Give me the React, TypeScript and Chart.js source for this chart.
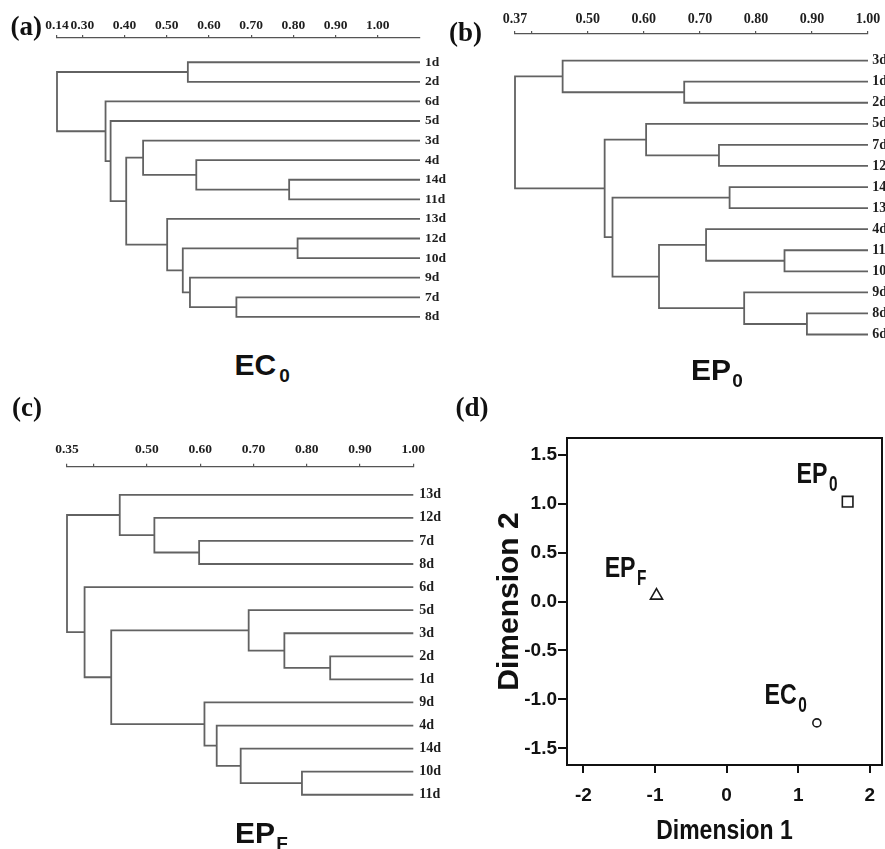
import React, { useEffect, useRef } from "react";
import { Chart, registerables } from "chart.js";

Chart.register(...registerables);

const SERIF = "'Liberation Serif', 'Times New Roman', Times, serif";
const SANS = "'Liberation Sans', Arial, Helvetica, sans-serif";

// ---------- (a) EC0 dendrogram ----------
const ecLeaves = ["1d", "2d", "6d", "5d", "3d", "4d", "14d", "11d", "13d", "12d", "10d", "9d", "7d", "8d"];
// [child A, child B, similarity]; "mN" refers to the N-th merge
const ecMerges: [string, string, number][] = [
  ["1d", "2d", 0.45],
  ["14d", "11d", 0.69],
  ["4d", "m1", 0.47],
  ["3d", "m2", 0.344],
  ["12d", "10d", 0.71],
  ["7d", "8d", 0.565],
  ["9d", "m5", 0.455],
  ["m4", "m6", 0.438],
  ["13d", "m7", 0.401],
  ["m3", "m8", 0.304],
  ["5d", "m9", 0.267],
  ["6d", "m10", 0.255],
  ["m0", "m11", 0.14],
];
const ecTickValues = [0.14, 0.2, 0.3, 0.4, 0.5, 0.6, 0.7, 0.8, 0.9];
const ecTickLabels = ["0.14", "0.30", "0.40", "0.50", "0.60", "0.70", "0.80", "0.90", "1.00"];

// ---------- (b) EP0 dendrogram ----------
const ep0Leaves = ["3d", "1d", "2d", "5d", "7d", "12d", "14d", "13d", "4d", "11d", "10d", "9d", "8d", "6d"];
const ep0Merges: [string, string, number][] = [
  ["1d", "2d", 0.672],
  ["3d", "m0", 0.455],
  ["7d", "12d", 0.734],
  ["5d", "m2", 0.604],
  ["14d", "13d", 0.753],
  ["11d", "10d", 0.851],
  ["4d", "m5", 0.711],
  ["8d", "6d", 0.891],
  ["9d", "m7", 0.779],
  ["m6", "m8", 0.627],
  ["m4", "m9", 0.544],
  ["m3", "m10", 0.53],
  ["m1", "m11", 0.37],
];
const ep0TickValues = [0.37, 0.4, 0.5, 0.6, 0.7, 0.8, 0.9, 1.0];
const ep0TickLabels = ["0.37", "", "0.50", "0.60", "0.70", "0.80", "0.90", "1.00"];

// ---------- (c) EPF dendrogram ----------
const epfLeaves = ["13d", "12d", "7d", "8d", "6d", "5d", "3d", "2d", "1d", "9d", "4d", "14d", "10d", "11d"];
const epfMerges: [string, string, number][] = [
  ["7d", "8d", 0.598],
  ["12d", "m0", 0.514],
  ["13d", "m1", 0.449],
  ["2d", "1d", 0.844],
  ["3d", "m3", 0.758],
  ["5d", "m4", 0.691],
  ["10d", "11d", 0.791],
  ["14d", "m6", 0.676],
  ["4d", "m7", 0.631],
  ["9d", "m8", 0.608],
  ["m5", "m9", 0.433],
  ["6d", "m10", 0.383],
  ["m2", "m11", 0.35],
];
const epfTickValues = [0.35, 0.4, 0.5, 0.6, 0.7, 0.8, 0.9, 1.0];
const epfTickLabels = ["0.35", "", "0.50", "0.60", "0.70", "0.80", "0.90", "1.00"];

// ---------- (d) MDS plot ----------
const mdsNames = ["EP", "EP", "EC"];
const mdsSubs = ["0", "F", "0"];
const mdsX = [1.69, -0.98, 1.26];
const mdsY = [1.02, 0.06, -1.24];
const mdsXTicks = [-2, -1, 0, 1, 2];
const mdsYTicks = [-1.5, -1.0, -0.5, 0.0, 0.5, 1.0, 1.5];
const mdsXTitle = "Dimension 1";
const mdsYTitle = "Dimension 2";

const mdsShapes = ["rect", "triangle", "circle"];
const mdsRadii = [7.5, 7, 4];

type Seg = { x: number; y: number }[];

function dendroSegments(leaves: string[], merges: [string, string, number][], leafValue: number): Seg[] {
  const pos = new Map<string, { x: number; y: number }>();
  leaves.forEach((name, i) => pos.set(name, { x: leafValue, y: i }));
  const segs: Seg[] = [];
  merges.forEach(([a, b, h], i) => {
    const A = pos.get(a)!;
    const B = pos.get(b)!;
    segs.push([
      { x: A.x, y: A.y },
      { x: h, y: A.y },
      { x: h, y: B.y },
      { x: B.x, y: B.y },
    ]);
    pos.set("m" + i, { x: h, y: (A.y + B.y) / 2 });
  });
  return segs;
}

type DendroProps = {
  leaves: string[];
  merges: [string, string, number][];
  tickValues: number[];
  tickLabels: string[];
  min: number;
  max: number;
  left: number;
  top: number;
  width: number;
  height: number;
  padLeft: number;
  axisHeight: number;
  labelWidth: number;
  yMin: number;
  yMax: number;
  tickFont: number;
  tickPad: number;
  leafFont: number;
  leafPad: number;
};

function Dendrogram(p: DendroProps) {
  const ref = useRef<HTMLCanvasElement | null>(null);
  useEffect(() => {
    if (!ref.current) return;
    const segs = dendroSegments(p.leaves, p.merges, p.max);
    const chart = new Chart(ref.current, {
      type: "scatter",
      data: {
        datasets: segs.map((s) => ({
          data: s,
          showLine: true,
          borderColor: "#626262",
          borderWidth: 1.8,
          pointRadius: 0,
          pointHoverRadius: 0,
          tension: 0,
          fill: false,
          clip: false as any,
        })),
      },
      options: {
        responsive: false,
        animation: false,
        events: [],
        layout: { autoPadding: false, padding: { left: p.padLeft, top: 0, right: 0, bottom: 0 } },
        plugins: { legend: { display: false }, tooltip: { enabled: false }, title: { display: false } },
        scales: {
          x: {
            type: "linear",
            position: "top",
            min: p.min,
            max: p.max,
            afterBuildTicks: (s: any) => {
              s.ticks = p.tickValues.map((v) => ({ value: v }));
            },
            afterFit: (s: any) => {
              s.height = p.axisHeight;
            },
            ticks: {
              autoSkip: false,
              maxRotation: 0,
              minRotation: 0,
              padding: p.tickPad,
              color: "#1e1e1e",
              font: { family: SERIF, size: p.tickFont, weight: "bold" },
              callback: (_v: any, i: number) => p.tickLabels[i] ?? "",
            },
            grid: { display: true, drawOnChartArea: false, drawTicks: true, tickLength: 3, color: "#555", lineWidth: 1.2 },
            border: { display: true, color: "#555", width: 1.3 },
          },
          y: {
            type: "linear",
            position: "right",
            reverse: true,
            min: p.yMin,
            max: p.yMax,
            afterBuildTicks: (s: any) => {
              s.ticks = p.leaves.map((_l, i) => ({ value: i }));
            },
            afterFit: (s: any) => {
              s.width = p.labelWidth;
            },
            ticks: {
              autoSkip: false,
              padding: p.leafPad,
              color: "#1e1e1e",
              font: { family: SERIF, size: p.leafFont, weight: "bold" },
              callback: (_v: any, i: number) => p.leaves[i] ?? "",
            },
            grid: { display: false, drawTicks: false },
            border: { display: false },
          },
        },
      } as any,
    });
    return () => chart.destroy();
  }, []);
  return (
    <canvas
      ref={ref}
      width={p.width}
      height={p.height}
      style={{ position: "absolute", left: p.left, top: p.top, width: p.width, height: p.height }}
    />
  );
}

function MdsPlot() {
  const ref = useRef<HTMLCanvasElement | null>(null);
  useEffect(() => {
    if (!ref.current) return;
    const framePlugin = {
      id: "frame",
      afterDraw(chart: any) {
        const { ctx, chartArea } = chart;
        ctx.save();
        ctx.strokeStyle = "#111";
        ctx.lineWidth = 2;
        ctx.strokeRect(chartArea.left, chartArea.top, chartArea.right - chartArea.left, chartArea.bottom - chartArea.top);
        // condensed x-axis title
        ctx.fillStyle = "#111";
        ctx.font = `bold 28px ${SANS}`;
        ctx.textAlign = "center";
        ctx.textBaseline = "middle";
        ctx.translate((chartArea.left + chartArea.right) / 2, chart.height - 17.3);
        ctx.scale(0.82, 1);
        ctx.fillText(mdsXTitle, 0, 0);
        ctx.restore();
      },
    };
    const labelPlugin = {
      id: "pointLabels",
      afterDatasetsDraw(chart: any) {
        const { ctx } = chart;
        const meta = chart.getDatasetMeta(0);
        ctx.fillStyle = "#111";
        meta.data.forEach((el: any, i: number) => {
          const px = el.x;
          const py = el.y;
          const subRight = px - 10;
          ctx.save();
          ctx.textAlign = "right";
          ctx.textBaseline = "alphabetic";
          ctx.font = `bold 22px ${SANS}`;
          const sw = ctx.measureText(mdsSubs[i]).width * 0.7;
          ctx.translate(subRight, py - 10.6);
          ctx.scale(0.7, 1);
          ctx.fillText(mdsSubs[i], 0, 0);
          ctx.restore();
          ctx.save();
          ctx.textAlign = "right";
          ctx.textBaseline = "alphabetic";
          ctx.font = `bold 29px ${SANS}`;
          ctx.translate(subRight - sw - 1.5, py - 19);
          ctx.scale(0.8, 1);
          ctx.fillText(mdsNames[i], 0, 0);
          ctx.restore();
        });
      },
    };
    const chart = new Chart(ref.current, {
      type: "scatter",
      data: {
        datasets: [
          {
            data: mdsX.map((x, i) => ({ x, y: mdsY[i] })),
            pointStyle: mdsShapes as any,
            pointRadius: mdsRadii,
            pointHoverRadius: mdsRadii,
            borderColor: "#1a1a1a",
            backgroundColor: "rgba(255,255,255,0)",
            borderWidth: 1.6,
          },
        ],
      },
      options: {
        responsive: false,
        animation: false,
        events: [],
        layout: { autoPadding: false, padding: { left: 0, top: 38, right: 3, bottom: 0 } },
        plugins: { legend: { display: false }, tooltip: { enabled: false } },
        scales: {
          x: {
            type: "linear",
            min: -2.23,
            max: 2.17,
            afterBuildTicks: (s: any) => {
              s.ticks = mdsXTicks.map((v) => ({ value: v }));
            },
            afterFit: (s: any) => {
              s.height = 84;
            },
            title: { display: false, text: mdsXTitle },
            ticks: {
              autoSkip: false,
              maxRotation: 0,
              padding: 3,
              color: "#111",
              font: { family: SANS, size: 19, weight: "bold", lineHeight: 2.063 },
              callback: (v: any) => String(v),
            },
            grid: { display: true, drawOnChartArea: false, drawTicks: true, tickLength: 8, lineWidth: 2, color: "#111" },
            border: { display: false },
          },
          y: {
            type: "linear",
            min: -1.67,
            max: 1.67,
            afterBuildTicks: (s: any) => {
              s.ticks = mdsYTicks.map((v) => ({ value: v }));
            },
            afterFit: (s: any) => {
              s.width = 117;
            },
            title: {
              display: true,
              text: mdsYTitle,
              color: "#111",
              font: { family: SANS, size: 30, weight: "bold" },
              padding: { top: 42, bottom: 0 },
            },
            ticks: {
              autoSkip: false,
              padding: 1,
              color: "#111",
              font: { family: SANS, size: 19, weight: "bold" },
              callback: (v: any) => Number(v).toFixed(1),
            },
            grid: { display: true, drawOnChartArea: false, drawTicks: true, tickLength: 9, lineWidth: 2, color: "#111" },
            border: { display: false },
          },
        },
      } as any,
      plugins: [framePlugin, labelPlugin],
    });
    return () => chart.destroy();
  }, []);
  return (
    <canvas
      ref={ref}
      width={435}
      height={449}
      style={{ position: "absolute", left: 450, top: 400, width: 435, height: 449 }}
    />
  );
}

const panelLabel: React.CSSProperties = {
  position: "absolute",
  fontFamily: SERIF,
  fontWeight: "bold",
  fontSize: 27,
  lineHeight: "27px",
  color: "#111",
  whiteSpace: "nowrap",
};

const titleStyle: React.CSSProperties = {
  position: "absolute",
  fontFamily: SANS,
  fontWeight: "bold",
  fontSize: 30,
  lineHeight: "30px",
  color: "#111",
  whiteSpace: "nowrap",
};

const subStyle: React.CSSProperties = {
  fontSize: 19,
  verticalAlign: "-7px",
  marginLeft: 1,
};

export default function App() {
  return (
    <div
      style={{
        position: "absolute",
        left: 0,
        top: 0,
        width: 885,
        height: 849,
        overflow: "hidden",
        background: "#fff",
      }}
    >
      <Dendrogram
        leaves={ecLeaves}
        merges={ecMerges}
        tickValues={ecTickValues}
        tickLabels={ecTickLabels}
        min={0.14}
        max={1.0}
        left={0}
        top={0}
        width={455}
        height={345}
        padLeft={57}
        axisHeight={38}
        labelWidth={35}
        yMin={-1.237}
        yMax={13.767}
        tickFont={13.5}
        tickPad={1.5}
        leafFont={13.5}
        leafPad={5}
      />
      <Dendrogram
        leaves={ep0Leaves}
        merges={ep0Merges}
        tickValues={ep0TickValues}
        tickLabels={ep0TickLabels}
        min={0.37}
        max={1.0}
        left={440}
        top={0}
        width={460}
        height={360}
        padLeft={75}
        axisHeight={34}
        labelWidth={32}
        yMin={-1.264}
        yMax={13.607}
        tickFont={14}
        tickPad={3.4}
        leafFont={14}
        leafPad={4.3}
      />
      <Dendrogram
        leaves={epfLeaves}
        merges={epfMerges}
        tickValues={epfTickValues}
        tickLabels={epfTickLabels}
        min={0.35}
        max={1.0}
        left={0}
        top={420}
        width={455}
        height={400}
        padLeft={67}
        axisHeight={46.7}
        labelWidth={41.7}
        yMin={-1.218}
        yMax={13.47}
        tickFont={13.5}
        tickPad={5.6}
        leafFont={14}
        leafPad={6}
      />
      <MdsPlot />

      <div style={{ ...panelLabel, left: 10.4, top: 13.4 }}>(a)</div>
      <div style={{ ...panelLabel, left: 449, top: 19.4 }}>(b)</div>
      <div style={{ ...panelLabel, left: 12, top: 394.4 }}>(c)</div>
      <div style={{ ...panelLabel, left: 455.5, top: 394.4 }}>(d)</div>

      <div style={{ ...titleStyle, left: 234.5, top: 349.6 }}>
        EC<span style={{ ...subStyle, marginLeft: 3 }}>0</span>
      </div>
      <div style={{ ...titleStyle, left: 691.1, top: 354.6 }}>
        EP<span style={subStyle}>0</span>
      </div>
      <div style={{ ...titleStyle, left: 235.1, top: 817.9 }}>
        EP<span style={subStyle}>F</span>
      </div>
    </div>
  );
}
